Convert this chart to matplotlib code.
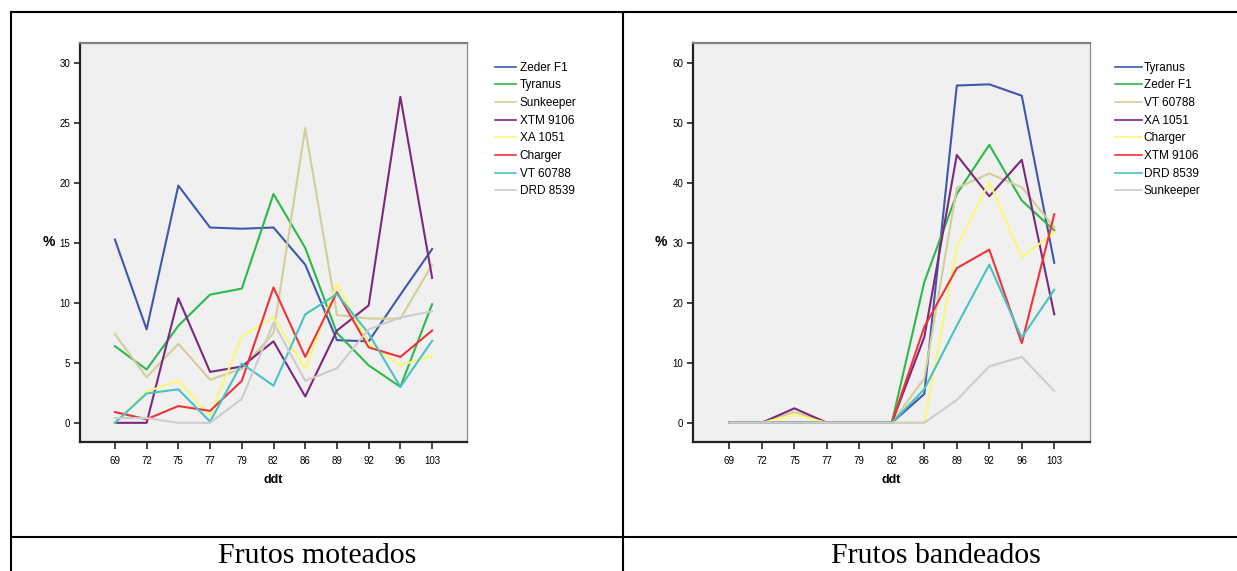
import matplotlib
matplotlib.use("Agg")
import matplotlib.pyplot as plt
from matplotlib.lines import Line2D

ddt = ["69", "72", "75", "77", "79", "82", "86", "89", "92", "96", "103"]

# Frutos moteados (%)
mot_names = ["Zeder F1", "Tyranus", "Sunkeeper", "XTM 9106", "XA 1051",
             "Charger", "VT 60788", "DRD 8539"]
mot_zeder = [15.3, 7.8, 19.8, 16.3, 16.2, 16.3, 13.2, 6.9, 6.8, 10.7, 14.5]
mot_tyranus = [6.4, 4.45, 8.1, 10.7, 11.2, 19.1, 14.6, 7.5, 4.8, 3.0, 9.9]
mot_sunkeeper = [7.4, 3.8, 6.6, 3.6, 4.5, 7.5, 24.6, 9.0, 8.7, 8.7, 13.2]
mot_xtm = [0.0, 0.0, 10.4, 4.25, 4.7, 6.8, 2.2, 7.7, 9.8, 27.2, 12.1]
mot_xa = [0.0, 2.6, 3.5, 0.6, 7.2, 8.8, 4.5, 11.6, 6.6, 4.8, 5.6]
mot_charger = [0.9, 0.3, 1.4, 1.0, 3.5, 11.3, 5.5, 10.9, 6.3, 5.5, 7.7]
mot_vt = [0.0, 2.45, 2.8, 0.1, 4.95, 3.1, 9.05, 10.75, 7.45, 3.0, 6.85]
mot_drd = [0.4, 0.4, 0.0, 0.0, 2.0, 8.35, 3.5, 4.55, 7.8, 8.8, 9.3]

# Frutos bandeados (%)
ban_names = ["Tyranus", "Zeder F1", "VT 60788", "XA 1051", "Charger",
             "XTM 9106", "DRD 8539", "Sunkeeper"]
ban_tyranus = [0, 0, 0, 0, 0, 0, 4.8, 56.3, 56.5, 54.6, 26.7]
ban_zeder = [0, 0, 0, 0, 0, 0, 23.5, 38.2, 46.4, 37.1, 32.1]
ban_vt = [0, 0, 1.8, 0, 0, 0, 7.4, 39.2, 41.6, 39.3, 32.6]
ban_xa = [0, 0, 2.4, 0, 0, 0, 14.3, 44.7, 37.8, 43.9, 18.1]
ban_charger = [0, 0, 1.3, 0, 0, 0, 0.0, 29.3, 40.2, 27.6, 31.8]
ban_xtm = [0, 0, 0, 0, 0, 0, 16.0, 25.8, 28.9, 13.3, 34.8]
ban_drd = [0, 0, 0, 0, 0, 0, 5.6, 16.2, 26.4, 14.2, 22.2]
ban_sunkeeper = [0, 0, 0, 0, 0, 0, 0.0, 3.8, 9.4, 11.0, 5.3]

colors = ["#3E58AC", "#2EB848", "#D3CE97", "#7C287D", "#FBF873",
          "#EF3338", "#48C2C5", "#CCCCCC"]

mot_series = [mot_zeder, mot_tyranus, mot_sunkeeper, mot_xtm, mot_xa,
              mot_charger, mot_vt, mot_drd]
ban_series = [ban_tyranus, ban_zeder, ban_vt, ban_xa, ban_charger,
              ban_xtm, ban_drd, ban_sunkeeper]

W, H = 1237, 571
fig = plt.figure(figsize=(W / 100, H / 100), dpi=100)
plt.rcParams['font.family'] = ['Liberation Sans', 'DejaVu Sans']


def px_axes(x0, y0, x1, y1):
    return fig.add_axes([x0 / W, 1 - y1 / H, (x1 - x0) / W, (y1 - y0) / H])


def style(ax, ylim, yticks, xlim):
    ax.set_facecolor("#F0F0F0")
    ax.set_ylim(*ylim)
    ax.set_xlim(*xlim)
    ax.set_yticks(yticks)
    ax.set_xticks(range(len(ddt)))
    ax.set_xticklabels(ddt)
    ax.tick_params(axis='both', labelsize=7, direction='out', color='#222222',
                   width=1.2, length=4, pad=3)
    ax.tick_params(axis='x', length=5, pad=5)
    for s in ['left', 'bottom']:
        ax.spines[s].set_color('#222222')
        ax.spines[s].set_linewidth(1.6)
    ax.spines['top'].set_color('#808080')
    ax.spines['top'].set_linewidth(1.6)
    ax.spines['right'].set_color('#8a8a8a')
    ax.spines['right'].set_linewidth(0.9)
    ax.set_xlabel("ddt", fontsize=9, fontweight='bold', labelpad=6)
    ax.set_ylabel("%", fontsize=10, fontweight='bold', rotation=0,
                  labelpad=8, va='center')


ax1 = px_axes(80, 43, 467, 442)
x = list(range(len(ddt)))
h1 = []
for vals, c, n in zip(mot_series, colors, mot_names):
    ln, = ax1.plot(x, vals, color=c, lw=1.5, label=n)
    h1.append(ln)
style(ax1, (-1.6, 31.7), [0, 5, 10, 15, 20, 25, 30], (-1.1, 11.1))

ax2 = px_axes(693, 43, 1090, 442)
h2 = []
for vals, c, n in zip(ban_series, colors, ban_names):
    ln, = ax2.plot(x, vals, color=c, lw=1.5, label=n)
    h2.append(ln)
style(ax2, (-3.22, 63.4), [0, 10, 20, 30, 40, 50, 60], (-1.12, 11.1))

leg1 = fig.legend(handles=h1, loc='upper left',
                  bbox_to_anchor=(490 / W, 1 - 57 / H), frameon=False,
                  fontsize=8.5, handlelength=1.8, handletextpad=0.3,
                  labelspacing=0.48, borderaxespad=0)
leg2 = fig.legend(handles=h2, loc='upper left',
                  bbox_to_anchor=(1110 / W, 1 - 57 / H), frameon=False,
                  fontsize=8.5, handlelength=2.3, handletextpad=0.15,
                  labelspacing=0.48, borderaxespad=0)
for leg in (leg1, leg2):
    for lh in leg.get_lines():
        lh.set_linewidth(1.2)

# table borders
bk = dict(color='black', lw=1.5, transform=fig.transFigure)
fig.add_artist(Line2D([11 / W, 1], [1 - 12 / H, 1 - 12 / H], **bk))
fig.add_artist(Line2D([11 / W, 11 / W], [1 - 12 / H, 0], **bk))
fig.add_artist(Line2D([623 / W, 623 / W], [1 - 12 / H, 0], **bk))
fig.add_artist(Line2D([11 / W, 1], [1 - 537 / H, 1 - 537 / H], **bk))

fig.text(317 / W, 1 - 556 / H, "Frutos moteados", ha='center', va='center',
         fontsize=21.5, family=['Liberation Serif', 'DejaVu Serif'])
fig.text(936 / W, 1 - 556 / H, "Frutos bandeados", ha='center', va='center',
         fontsize=21.5, family=['Liberation Serif', 'DejaVu Serif'])

fig.savefig("out.png", dpi=100)
